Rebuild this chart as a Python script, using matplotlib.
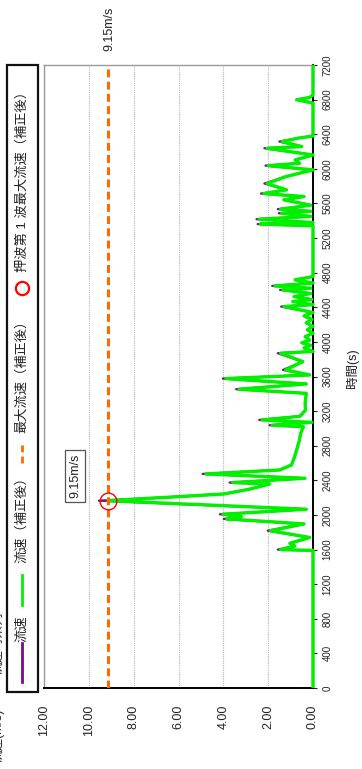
import matplotlib
matplotlib.use('Agg')
import matplotlib.pyplot as plt
from matplotlib.lines import Line2D
from matplotlib.patches import Rectangle

plt.rcParams['font.family'] = ['Liberation Sans', 'Noto Sans CJK JP']

# ---------------- data ----------------
time_s = [0, 1590, 1599, 1641, 1672, 1740, 1818, 1896, 1954, 1980, 2008, 2066,
          2165, 2204, 2243, 2300, 2358, 2374, 2424, 2474, 2520, 2578, 2650, 2751,
          2850, 2944, 3020, 3037, 3070, 3098, 3140, 3210, 3300, 3405, 3453, 3514,
          3576, 3618, 3676, 3772, 3869, 3890, 3930, 3960, 3990, 4020, 4060, 4100,
          4140, 4180, 4220, 4260, 4300, 4340, 4408, 4430, 4466, 4490, 4523, 4560,
          4601, 4620, 4647, 4680, 4717, 4755, 5341, 5361, 5379, 5418, 5450, 5487,
          5510, 5534, 5580, 5642, 5680, 5714, 5757, 5830, 5911, 5988, 6037, 6064,
          6103, 6160, 6238, 6257, 6315, 6355, 6380, 6760, 6798, 6825, 6855, 7200]

vel_corrected = [0, 0, 1.45, 0.81, 1.03, 0.15, 1.90, 0.40, 3.85, 3.20, 4.02, 0.30,
                 9.15, 6.50, 3.95, 2.80, 1.93, 3.58, 0.36, 4.78, 1.48, 0.96, 0.85, 0.73,
                 0.62, 0.55, 0.43, 1.82, 0.05, 2.27, 0.58, 0.34, 0.35, 0.30, 3.30, 0.30,
                 3.88, 0.15, 1.22, 0.45, 1.45, 0.00, 0.40, 0.10, 0.50, 0.15, 0.35, 0.00,
                 0.25, 0.00, 0.30, 0.05, 0.40, 0.00, 1.30, 0.00, 0.90, 0.05, 0.85, 0.10,
                 1.35, 0.10, 1.70, 0.00, 0.80, 0.00, 0.00, 2.35, 0.00, 2.40, 0.10, 1.40,
                 0.10, 1.45, 0.10, 1.30, 0.40, 2.20, 1.18, 2.05, 1.20, 0.00, 2.00, 0.60,
                 0.80, 0.00, 2.05, 0.50, 1.38, 0.65, 0.00, 0.00, 0.73, 0.15, 0.00, 0.00]

vel_raw = [0, 0, 1.57, 0.81, 1.03, 0.15, 2.02, 0.40, 3.98, 3.20, 4.15, 0.30,
           9.55, 6.50, 3.95, 2.80, 1.93, 3.72, 0.36, 4.92, 1.48, 0.96, 0.85, 0.73,
           0.62, 0.55, 0.43, 1.94, 0.05, 2.40, 0.58, 0.34, 0.35, 0.30, 3.43, 0.30,
           4.02, 0.15, 1.34, 0.45, 1.57, 0.00, 0.40, 0.10, 0.50, 0.15, 0.35, 0.00,
           0.25, 0.00, 0.30, 0.05, 0.40, 0.00, 1.42, 0.00, 0.90, 0.05, 0.85, 0.10,
           1.47, 0.10, 1.82, 0.00, 0.80, 0.00, 0.00, 2.47, 0.00, 2.52, 0.10, 1.52,
           0.10, 1.57, 0.10, 1.30, 0.40, 2.32, 1.18, 2.17, 1.20, 0.00, 2.12, 0.60,
           0.80, 0.00, 2.17, 0.50, 1.50, 0.65, 0.00, 0.00, 0.73, 0.15, 0.00, 0.00]

max_velocity = 9.15
first_wave_time = 2165
max_label = '9.15m/s'
time_ticks = list(range(0, 7201, 400))
vel_ticks = [0, 2, 4, 6, 8, 10, 12]

legend_labels = ['流速', '流速（補正後）', '最大流速（補正後）', '押波第 1 波最大流速（補正後）']

C_RAW = '#7B0A8C'
C_COR = '#00F000'
C_MAX = '#FF6A00'
C_PT = '#FF0000'

# ---------------- figure ----------------
W, H = 362, 769
fig = plt.figure(figsize=(W / 100, H / 100), dpi=100)


def fx(px):
    return px / W


def fy(py):
    return 1 - py / H


ax = fig.add_axes([fx(44), fy(688), fx(313) - fx(44), fy(65) - fy(688)])

ax.plot(vel_raw, time_s, color=C_RAW, lw=1.6, solid_joinstyle='round',
        solid_capstyle='butt', clip_on=False, zorder=3)
ax.plot(vel_corrected, time_s, color=C_COR, lw=2.4, solid_joinstyle='round',
        solid_capstyle='butt', clip_on=False, zorder=4)
ax.axvline(max_velocity, color=C_MAX, lw=2.2, dashes=(2.6, 1.4), zorder=5)
ax.plot([max_velocity], [first_wave_time], marker='o', ms=12, mfc='none',
        mec=C_PT, mew=1.0, zorder=6, clip_on=False)

ax.set_xlim(12, 0)
ax.set_ylim(0, 7200)

ax.set_xticks(vel_ticks)
ax.set_xticklabels(['%.2f' % v for v in vel_ticks], rotation=90, fontsize=9)
ax.tick_params(axis='x', length=0, pad=12, colors='#222222')
ax.grid(axis='x', color='#b5b5b5', lw=0.8, ls=(0, (1, 1)))

ax.yaxis.tick_right()
ax.set_yticks(time_ticks)
ax.set_yticklabels([str(t) for t in time_ticks], rotation=90, fontsize=7)
for lab in ax.get_yticklabels():
    lab.set_va('center')
ax.tick_params(axis='y', length=3, width=0.8, pad=4, direction='out', colors='#222222')

for s in ['top', 'left']:
    ax.spines[s].set_color('#9a9a9a')
    ax.spines[s].set_linewidth(1.0)
for s in ['bottom', 'right']:
    ax.spines[s].set_color('#000000')
    ax.spines[s].set_linewidth(1.4)

# axis label (time)
fig.text(fx(352), fy(368), '時間(s)', rotation=90, ha='center', va='center',
         fontsize=9, color='#222222')

# max value labels
fig.text(fx(109), fy(29), max_label, rotation=90, ha='center', va='center',
         fontsize=9, color='#222222')
fig.text(fx(75), fy(476), max_label, rotation=90, ha='center', va='center',
         fontsize=9, color='#222222',
         bbox=dict(boxstyle='square,pad=0.3', fc='white', ec='#555555', lw=0.9))

# title / velocity label at the left edge (partly outside, as in the reference)
fig.text(fx(-2), fy(643), '流速時系列', rotation=90, ha='center', va='center',
         fontsize=9, color='#222222')
fig.text(fx(-2), fy(735), '流速(m/s)', rotation=90, ha='center', va='center',
         fontsize=9, color='#222222')

# ---------------- legend (drawn rotated) ----------------
fig.add_artist(Rectangle((fx(7), fy(692)), fx(38) - fx(7), fy(65) - fy(692),
                         transform=fig.transFigure, fc='white', ec='#111111', lw=1.6))
lx = fx(22)
fig.add_artist(Line2D([lx, lx], [fy(682), fy(643)], transform=fig.transFigure,
                      color=C_RAW, lw=2.0))
fig.text(lx, fy(629), legend_labels[0], rotation=90, ha='center', va='center',
         fontsize=9.5, color='#222222')
fig.add_artist(Line2D([lx, lx], [fy(605), fy(575)], transform=fig.transFigure,
                      color=C_COR, lw=2.0))
fig.text(lx, fy(517), legend_labels[1], rotation=90, ha='center', va='center',
         fontsize=9.5, color='#222222')
fig.add_artist(Line2D([lx, lx], [fy(463), fy(442)], transform=fig.transFigure,
                      color=C_MAX, lw=2.0, dashes=(2.5, 1.5)))
fig.text(lx, fy(373), legend_labels[2], rotation=90, ha='center', va='center',
         fontsize=9.5, color='#222222')
fig.add_artist(Line2D([lx], [fy(288)], transform=fig.transFigure, marker='o',
                      ms=9.5, mfc='none', mec=C_PT, mew=1.6))
fig.text(lx, fy(178), legend_labels[3], rotation=90, ha='center', va='center',
         fontsize=9.5, color='#222222')

fig.savefig('out.png', dpi=100)
